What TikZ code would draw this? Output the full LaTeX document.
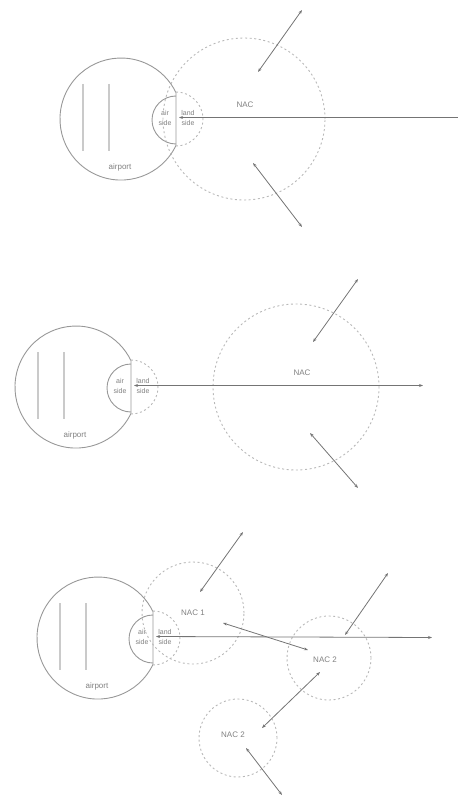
\documentclass[tikz,border=0pt]{standalone}
\usepackage{fontspec}
\setmainfont{Liberation Sans}
\usetikzlibrary{arrows.meta}
\definecolor{lineg}{HTML}{989898}
\definecolor{rwg}{HTML}{CACACA}
\definecolor{dashg}{HTML}{B8B8B8}
\definecolor{arrg}{HTML}{747474}
\definecolor{txtg}{HTML}{808080}
\tikzset{
  apline/.style={draw=lineg, line width=0.9pt},
  runway/.style={draw=rwg, line width=1.6pt},
  nacdash/.style={draw=dashg, line width=0.9pt, dash pattern=on 2pt off 2.6pt},
  nac/.style={circle, nacdash, inner sep=0pt},
  lbl/.style={text=txtg, font=\fontsize{8}{9.5}\selectfont, inner sep=0pt},
  small/.style={text=txtg, font=\fontsize{7}{10}\selectfont, inner sep=0pt, align=center},
  arr/.style={draw=arrg, line width=0.8pt, {Stealth[length=4pt,width=3pt]}-{Stealth[length=4pt,width=3pt]}},
  arrleft/.style={draw=arrg, line width=0.8pt, {Stealth[length=4pt,width=3pt]}-},
  airport/.pic={
    \draw[apline] (55,26.4) arc[start angle=25.6, end angle=334.4, radius=61] -- cycle;
    \draw[apline] (55,25) arc[start angle=90, end angle=270, radius=24];
    \draw[nacdash] (55,-27) arc[start angle=-90, end angle=90, radius=27];
    \draw[runway] (-38,-35) -- (-38,32);
    \draw[runway] (-12,-35) -- (-12,32);
    \node[lbl] (-port) at (-1,48) {airport};
    \node[small] (-air) at (44,-1) {air\\side};
    \node[small] (-land) at (67,-1) {land\\side};
    \coordinate (-tip) at (58,-1.5);
  }
}
\begin{document}
\begin{tikzpicture}[x=1pt,y=-1pt]
\useasboundingbox (0,0) rectangle (458,802);
% ---------- panel 1 ----------
\pic (p1) at (121,119) {airport};
\node[nac, minimum size=162pt] (n1) at (244,119) {};
\node[lbl] (n1t) at (245,105) {NAC};
\coordinate (e1) at (458,117.5);
\draw[arrleft] (p1-tip) -- (e1);
\coordinate (a1s) at (302,10);  \coordinate (a1e) at (258,72);
\coordinate (b1s) at (253,163); \coordinate (b1e) at (302,227);
\draw[arr] (a1s) -- (a1e);
\draw[arr] (b1s) -- (b1e);
% ---------- panel 2 ----------
\pic (p2) at (76,387) {airport};
\node[nac, minimum size=166pt] (n2) at (296,387) {};
\node[lbl] (n2t) at (302,373) {NAC};
\coordinate (e2) at (423,385.5);
\draw[arr] (p2-tip) -- (e2);
\coordinate (a2s) at (358,279); \coordinate (a2e) at (313,342);
\coordinate (b2s) at (310,433); \coordinate (b2e) at (358,488);
\draw[arr] (a2s) -- (a2e);
\draw[arr] (b2s) -- (b2e);
% ---------- panel 3 ----------
\pic (p3) at (98,638) {airport};
\node[nac, minimum size=102pt] (m1) at (193,613) {};
\node[nac, minimum size=84pt] (m2) at (329,658) {};
\node[nac, minimum size=78pt] (m3) at (238,738) {};
\node[lbl] (m1t) at (193,613) {NAC 1};
\node[lbl] (m2t) at (325,660) {NAC 2};
\node[lbl] (m3t) at (233,735) {NAC 2};
\coordinate (e3) at (432,637.5);
\draw[arr] (p3-tip) -- (e3);
\coordinate (c1s) at (243,532); \coordinate (c1e) at (200,592);
\coordinate (c2s) at (223,623); \coordinate (c2e) at (308,650);
\coordinate (c3s) at (388,573); \coordinate (c3e) at (345,635);
\coordinate (c4s) at (320,672); \coordinate (c4e) at (262,728);
\coordinate (c5s) at (246,748); \coordinate (c5e) at (282,795);
\draw[arr] (c1s) -- (c1e);
\draw[arr] (c2s) -- (c2e);
\draw[arr] (c3s) -- (c3e);
\draw[arr] (c4s) -- (c4e);
\draw[arr] (c5s) -- (c5e);
\end{tikzpicture}
\end{document}
